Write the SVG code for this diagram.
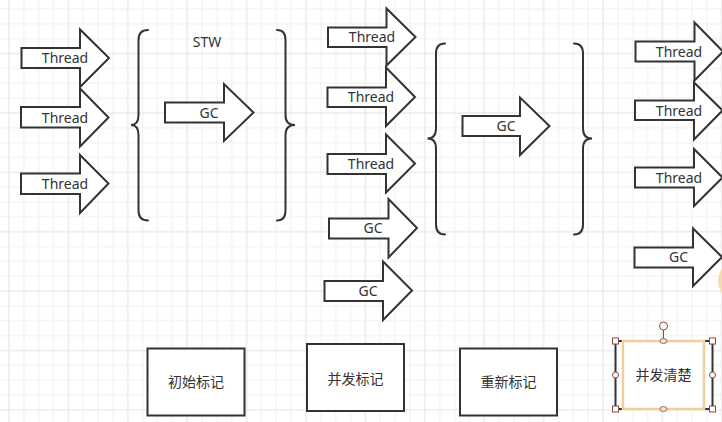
<svg xmlns="http://www.w3.org/2000/svg" width="722" height="422" viewBox="0 0 722 422">
<style>
.arr{fill:#ffffff;stroke:#333333;stroke-width:2;stroke-linejoin:miter}
.brace{fill:none;stroke:#333333;stroke-width:2;stroke-linecap:round}
.box{fill:#ffffff;stroke:#333333;stroke-width:2}
.lbl{font-family:"Noto Sans","Liberation Sans","Noto Sans CJK SC",sans-serif;font-size:14px;fill:#333333;text-anchor:middle}
.cjk{font-family:"Noto Sans CJK SC","Noto Sans",sans-serif;font-size:14px;fill:#333333;text-anchor:middle}
.h{fill:#ffffff;stroke:#8a4b3e;stroke-width:1}
</style>
<defs>
<pattern id="grid" patternUnits="userSpaceOnUse" x="9" y="53.5" width="59.4" height="59.4">
<rect x="14.35" y="0" width="1" height="59.4" fill="#efefef"/>
<rect x="29.2" y="0" width="1" height="59.4" fill="#efefef"/>
<rect x="44.05" y="0" width="1" height="59.4" fill="#efefef"/>
<rect x="0" y="14.35" width="59.4" height="1" fill="#efefef"/>
<rect x="0" y="29.2" width="59.4" height="1" fill="#efefef"/>
<rect x="0" y="44.05" width="59.4" height="1" fill="#efefef"/>
<rect x="-0.5" y="0" width="1" height="59.4" fill="#e2e2e2"/>
<rect x="0" y="-0.5" width="59.4" height="1" fill="#e2e2e2"/>
<rect x="58.9" y="0" width="1" height="59.4" fill="#e2e2e2"/>
<rect x="0" y="58.9" width="59.4" height="1" fill="#e2e2e2"/>
</pattern>
</defs>
<rect x="0" y="0" width="722" height="422" fill="#ffffff"/>
<rect x="0" y="0" width="722" height="422" fill="url(#grid)"/>

<g id="connectors">
<path class="brace" d="M148,30 Q138.5,30 138.5,40 L138.5,115 Q138.5,125 131,125 Q138.5,125 138.5,135 L138.5,210.5 Q138.5,220.5 148,220.5"/>
<path class="brace" d="M277,30 Q285.5,30 285.5,40 L285.5,115 Q285.5,125 295,125 Q285.5,125 285.5,135 L285.5,210.5 Q285.5,220.5 277,220.5"/>
<path class="brace" d="M445,43.5 Q436,43.5 436,53.5 L436,128.5 Q436,138.5 427.5,138.5 Q436,138.5 436,148.5 L436,224.5 Q436,234.5 445,234.5"/>
<path class="brace" d="M574,43.5 Q583,43.5 583,53.5 L583,128.5 Q583,138.5 592,138.5 Q583,138.5 583,148.5 L583,224.5 Q583,234.5 574,234.5"/>
</g>

<g id="stw-label"><text class="lbl" x="207" y="46.5">STW</text></g>

<g id="thread-a1"><polygon class="arr" points="21.5,48 80,48 80,29.5 109,58 80,87 80,68 21.5,68"/><text class="lbl" x="65" y="63">Thread</text></g>
<g id="thread-a2"><polygon class="arr" points="21,107 80,107 80,88.5 108.5,117.5 80,146.5 80,127.5 21,127.5"/><text class="lbl" x="65" y="122.5">Thread</text></g>
<g id="thread-a3"><polygon class="arr" points="21,173.5 80,173.5 80,155 108.5,183.5 80,213 80,194 21,194"/><text class="lbl" x="65" y="188.5">Thread</text></g>
<g id="gc-a"><polygon class="arr" points="165,102.5 224,102.5 224,84 253.5,112.5 224,141 224,122.5 165,122.5"/><text class="lbl" x="209" y="117.5">GC</text></g>

<g id="thread-b1"><polygon class="arr" points="328,27.5 386.5,27.5 386.5,8.5 415.5,37 386.5,65.5 386.5,47 328,47"/><text class="lbl" x="372" y="42">Thread</text></g>
<g id="thread-b2"><polygon class="arr" points="327.5,87.5 386,87.5 386,67.5 415,97 386,126 386,107 327.5,107"/><text class="lbl" x="371" y="102">Thread</text></g>
<g id="thread-b3"><polygon class="arr" points="327.5,154 386,154 386,134.5 415,163.5 386,192.5 386,174 327.5,174"/><text class="lbl" x="371" y="168.5">Thread</text></g>
<g id="gc-b1"><polygon class="arr" points="329,218.5 388.5,218.5 388.5,199 417,228 388.5,257.5 388.5,238.5 329,238.5"/><text class="lbl" x="373" y="233">GC</text></g>
<g id="gc-b2"><polygon class="arr" points="324.5,281 383,281 383,261.5 412,290.5 383,320 383,301 324.5,301"/><text class="lbl" x="368" y="295.5">GC</text></g>
<g id="gc-m"><polygon class="arr" points="462.5,116 520,116 520,97.5 549.5,126 520,155 520,136 462.5,136"/><text class="lbl" x="506" y="131">GC</text></g>

<g id="thread-c1"><polygon class="arr" points="635.5,41.5 694.5,41.5 694.5,22.5 723,51.5 694.5,80.5 694.5,61.5 635.5,61.5"/><text class="lbl" x="679" y="56.5">Thread</text></g>
<g id="thread-c2"><polygon class="arr" points="635,100.5 694,100.5 694,82.5 722.5,110.5 694,139.5 694,120 635,120"/><text class="lbl" x="679" y="115.5">Thread</text></g>
<g id="thread-c3"><polygon class="arr" points="635,167.5 694,167.5 694,149 722.5,177.5 694,206 694,187.5 635,187.5"/><text class="lbl" x="679" y="182.5">Thread</text></g>
<g id="gc-c"><polygon class="arr" points="634.5,247.5 693,247.5 693,228.5 722,257 693,286 693,267.5 634.5,267.5"/><text class="lbl" x="678.5" y="262">GC</text></g>

<g id="hover-blob"><ellipse cx="734" cy="281" rx="16" ry="18" fill="#f6d7a4" opacity="0.85"/></g>

<g id="box-initial"><rect class="box" x="147.5" y="348.5" width="97" height="67"/><text class="cjk" x="196" y="387">初始标记</text></g>
<g id="box-concurrent"><rect class="box" x="307" y="344" width="97" height="67"/><text class="cjk" x="355.5" y="384">并发标记</text></g>
<g id="box-remark"><rect class="box" x="460" y="348.5" width="97" height="67"/><text class="cjk" x="508.5" y="387">重新标记</text></g>
<g id="box-sweep">
<rect class="box" x="615.5" y="341" width="97" height="68"/>
<rect x="623" y="341" width="81" height="68" fill="none" stroke="#f0cf9c" stroke-width="2.5"/>
<text class="cjk" x="663.5" y="380">并发清楚</text>
<line x1="663.5" y1="330" x2="663.5" y2="341" stroke="#8a4b3e" stroke-width="1"/>
<circle class="h" cx="663.5" cy="326" r="4"/>
<rect class="h" x="612.5" y="338" width="6" height="6"/>
<rect class="h" x="709.5" y="338" width="6" height="6"/>
<rect class="h" x="612.5" y="406" width="6" height="6"/>
<rect class="h" x="709.5" y="406" width="6" height="6"/>
<circle class="h" cx="615.5" cy="375" r="3"/>
<circle class="h" cx="712.5" cy="375" r="3"/>
<ellipse cx="663.5" cy="341" rx="3.5" ry="2.5" fill="#f6e2c4" stroke="#8a4b3e" stroke-width="0.8"/>
<ellipse cx="663.5" cy="409" rx="3.5" ry="2.5" fill="#f6e2c4" stroke="#8a4b3e" stroke-width="0.8"/>
</g>
</svg>
